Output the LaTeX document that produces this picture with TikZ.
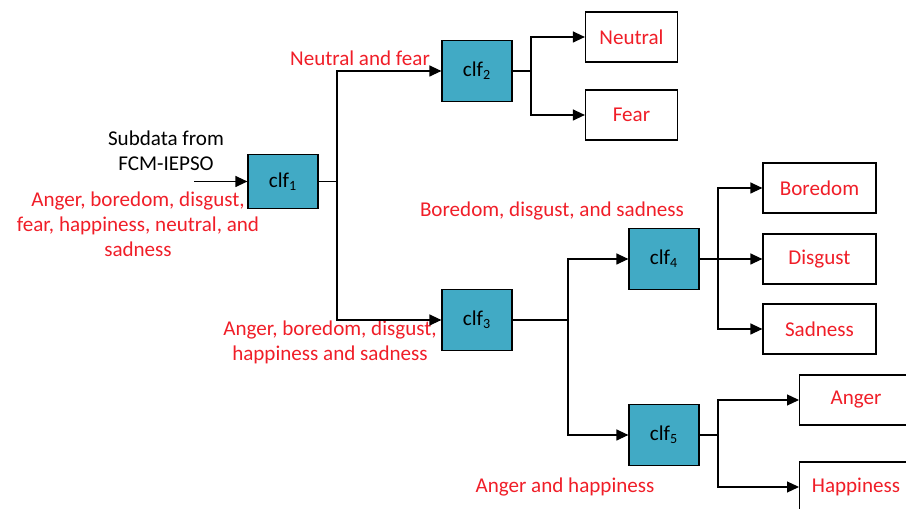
\documentclass[tikz,border=0pt]{standalone}
\usepackage{fontspec}
\setmainfont{Carlito}
\usepackage{tikz}
\usetikzlibrary{arrows.meta,%
                positioning}
\definecolor{clfblue}{RGB}{65,170,197}
\definecolor{lblred}{RGB}{240,30,40}

\tikzset{clf/.style={draw, fill=clfblue, minimum width=1.4cm, minimum height=1.22cm, inner sep=0pt},
         leaf/.style={draw, fill=white, text=lblred, minimum height=1cm, inner sep=0pt},
         lbl/.style={text=lblred, align=center, inner sep=0pt},
         link/.style={-{Triangle[length=2.4mm,width=2.2mm]}}}

\begin{document}
\begin{tikzpicture}[x=0.02cm, y=-0.02cm, line width=0.7pt, font=\fontsize{12}{14.2}\selectfont]
\path[use as bounding box] (0,0) rectangle (906,509);
\clip (0,0) rectangle (906,509);
%classifiers
\node[clf, minimum height=1.08cm] (clf1) at (283,181.5) {clf\textsubscript{1}};
\node[clf] (clf2) at (477,71) {clf\textsubscript{2}};
\node[clf] (clf3) at (477,320) {clf\textsubscript{3}};
\node[clf] (clf4) at (664,259) {clf\textsubscript{4}};
\node[clf] (clf5) at (664,435) {clf\textsubscript{5}};
%classes
\node[leaf, minimum width=1.84cm] (neutral) at (631.5,37) {Neutral};
\node[leaf, minimum width=1.84cm] (fear) at (631.5,115) {Fear};
\node[leaf, minimum width=2.26cm] (boredom) at (819.5,188) {Boredom};
\node[leaf, minimum width=2.26cm] (disgust) at (819.5,259) {Disgust};
\node[leaf, minimum width=2.26cm] (sadness) at (819.5,329) {Sadness};
\node[leaf, minimum width=3cm, anchor=west] (anger) at (799,400) {};
\node[leaf, minimum width=3cm, anchor=west] (happy) at (799,487) {};
\node[text=lblred] (angertxt) at (856,400) {Anger};
\node[text=lblred] (happytxt) at (856,487) {Happiness};
%labels
\node[align=center, inner sep=0pt] (sub) at (166,151) {Subdata from\\FCM-IEPSO};
\node[lbl] (all) at (138,224) {Anger, boredom, disgust,\\fear, happiness, neutral, and\\sadness};
\node[lbl] (nf) at (360,58) {Neutral and fear};
\node[lbl] (abdhs) at (330,342) {Anger, boredom, disgust,\\happiness and sadness};
\node[lbl] (bds) at (552,211) {Boredom, disgust, and sadness};
\node[lbl] (ah) at (565,487) {Anger and happiness};
%joints
\coordinate (in) at (194,181.5);
\coordinate (j1) at (337,181.5);
\coordinate (j2) at (531,71);
\coordinate (j3) at (568,320);
\coordinate (j4) at (718,259);
\coordinate (j5) at (718,435);
\draw[link] (in) -- (clf1);
\draw (clf1) -- (j1);
\draw[link] (j1) |- (clf2);
\draw[link] (j1) |- (clf3);
\draw (clf2) -- (j2);
\draw[link] (j2) |- (neutral);
\draw[link] (j2) |- (fear);
\draw (clf3) -- (j3);
\draw[link] (j3) |- (clf4);
\draw[link] (j3) |- (clf5);
\draw (clf4) -- (j4);
\draw[link] (j4) |- (boredom);
\draw[link] (j4) -- (disgust);
\draw[link] (j4) |- (sadness);
\draw (clf5) -- (j5);
\draw[link] (j5) |- (anger.west);
\draw[link] (j5) |- (happy.west);
\end{tikzpicture}
\end{document}
